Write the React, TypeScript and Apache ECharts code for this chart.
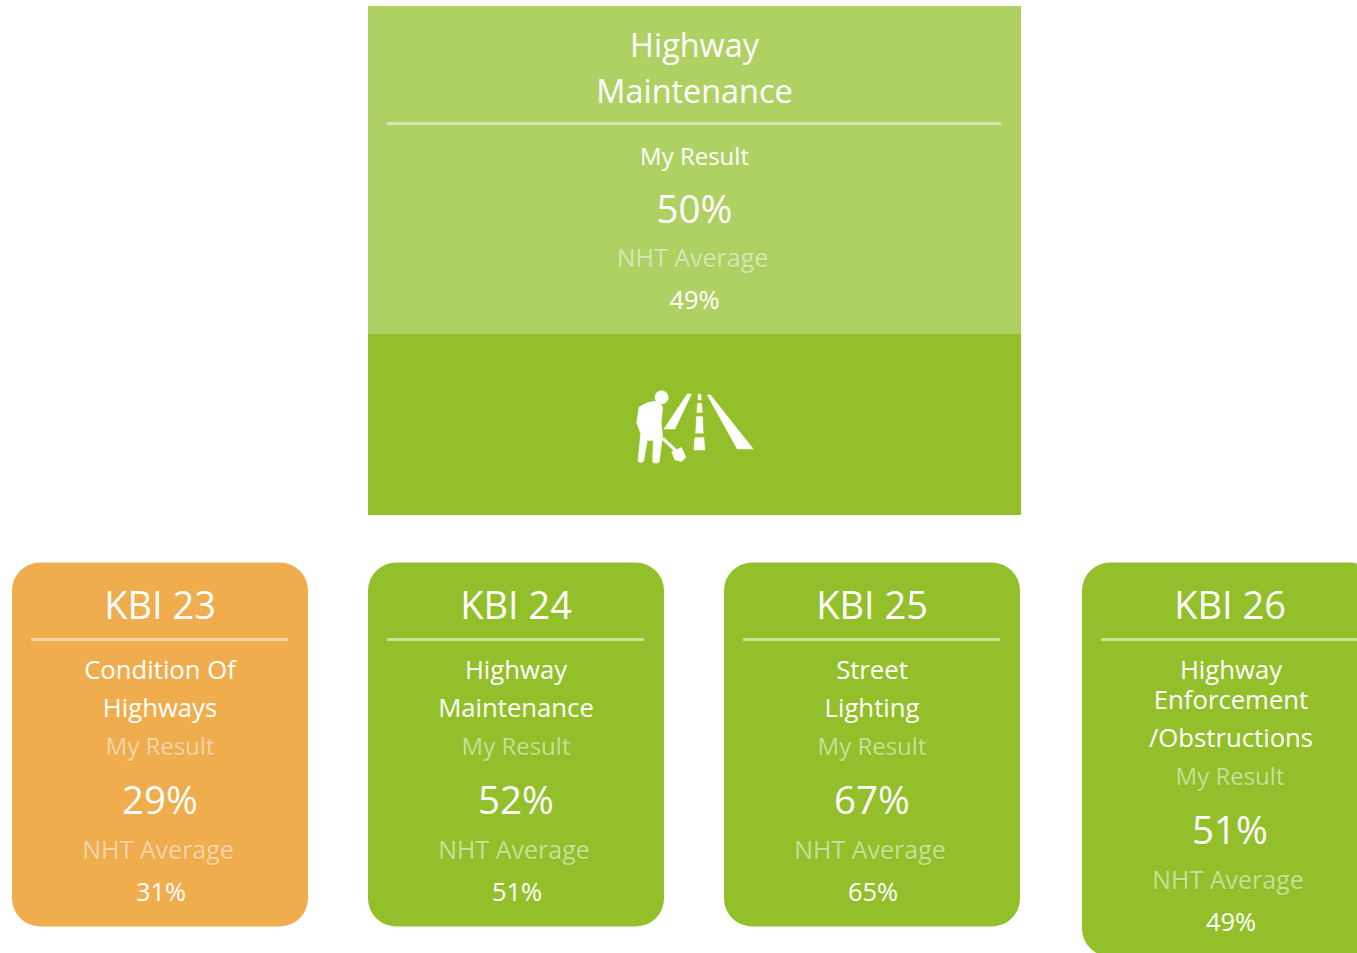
import React, { useEffect, useRef } from "react";
import * as echarts from "echarts";

const GREEN = "#93c02a";
const LIGHT = "#afd164";
const ORANGE = "#f0ad4e";
const FONT = "'Open Sans', sans-serif";

const kbiNames = ["KBI 23", "KBI 24", "KBI 25", "KBI 26"];
const kbiTitles = [
  ["Condition Of", "Highways"],
  ["Highway", "Maintenance"],
  ["Street", "Lighting"],
  ["Highway", "Enforcement", "/Obstructions"],
];
const kbiResults = ["29%", "52%", "67%", "51%"];
const kbiAverages = ["31%", "51%", "65%", "49%"];
const kbiColors = [ORANGE, GREEN, GREEN, GREEN];
const kbiLeft = [12, 368, 724, 1082];
const kbiHeights = [364, 364, 364, 394];

const mainTitle = ["Highway", "Maintenance"];
const mainResult = "50%";
const mainAverage = "49%";

const ICON =
  "M117 112Q140 96 163 94Q186 98 188 115L184 158L188 198L178 276Q168 284 158 276L160 212L142 212L131 274Q122 282 114 274L122 190L110 158Z" +
  "M165 82A20 20 0 1 0 205 82A20 20 0 1 0 165 82Z" +
  "M192 203L232 240L226 246L186 209Z" +
  "M215 245L245 233L258 262L245 275L225 270Z" +
  "M262 72L275 72L225 177L192 177Z" +
  "M295 72L303 72L304 90L294 90ZM293 100L305 100L307 128L291 128Z" +
  "M290 140L308 140L310 190L287 190ZM285 203L312 203L315 240L282 240Z" +
  "M322 75L332 75L460 237L412 237Z";
echarts.graphic.registerShape("roadworks", echarts.graphic.extendPath(ICON, {}));

function label(text: string, x: number, y: number, size: number, fill = "#fff") {
  return {
    type: "text",
    x,
    y,
    silent: true,
    style: { text, fill, font: `${size}px ${FONT}`, align: "center", verticalAlign: "middle" },
  };
}

function faded(text: string, x: number, y: number, size: number) {
  const el: any = label(text, x, y, size, "rgba(255,255,255,0.5)");
  el.style.textShadowColor = "rgba(0,0,0,0.12)";
  el.style.textShadowBlur = 1;
  el.style.textShadowOffsetY = 1;
  return el;
}

function buildCard(i: number) {
  const left = kbiLeft[i];
  const cx = left + 148;
  const title = kbiTitles[i];
  const extra = title.length === 3 ? 30 : 0;
  const titleYs = title.length === 3 ? [669, 699, 737] : [669, 707];
  return [
    {
      type: "rect",
      shape: { x: left, y: 562.5, width: 296, height: kbiHeights[i], r: 28 },
      style: { fill: kbiColors[i] },
    },
    {
      type: "rect",
      shape: { x: left + 19, y: 638, width: 257, height: 3 },
      style: { fill: "rgba(255,255,255,0.5)" },
    },
    label(kbiNames[i], cx, 604, 38),
    ...title.map((t, k) => label(t, cx + (title.length === 3 ? 1 : 0), titleYs[k], 25.7)),
    faded("My Result", cx, 745 + extra, 24),
    label(kbiResults[i], cx, 799 + extra, 38.5),
    faded("NHT Average", cx - 2, 849 + extra, 25),
    label(kbiAverages[i], cx + 1, 891 + extra, 25.5),
  ];
}

export default function App() {
  const ref = useRef<HTMLDivElement>(null);
  useEffect(() => {
    document.body.style.margin = "0";
    document.body.style.overflow = "hidden";
    const chart = echarts.init(ref.current!, undefined, { renderer: "svg" });
    const cx = 694.5;
    chart.setOption({
      animation: false,
      backgroundColor: "#fff",
      graphic: {
        elements: [
          { type: "rect", shape: { x: 368, y: 6, width: 653, height: 328 }, style: { fill: LIGHT } },
          { type: "rect", shape: { x: 368, y: 334, width: 653, height: 181 }, style: { fill: GREEN } },
          label(mainTitle[0], cx, 44, 32.4),
          label(mainTitle[1], cx, 90, 32.4),
          { type: "rect", shape: { x: 387, y: 122, width: 614, height: 3 }, style: { fill: "rgba(255,255,255,0.5)" } },
          label("My Result", cx, 155, 24),
          label(mainResult, cx, 208, 38.5),
          faded("NHT Average", cx - 2, 257, 25),
          label(mainAverage, cx, 299, 25.5),
          { type: "roadworks", x: 600, y: 370, scaleX: 1 / 3, scaleY: 1 / 3, style: { fill: "#fff", stroke: "#fff", lineWidth: 1.5, lineJoin: "round" } },
          ...kbiNames.flatMap((_, i) => buildCard(i)),
        ],
      },
    });
    return () => chart.dispose();
  }, []);
  return <div ref={ref} style={{ width: 1357, height: 953 }} />;
}
